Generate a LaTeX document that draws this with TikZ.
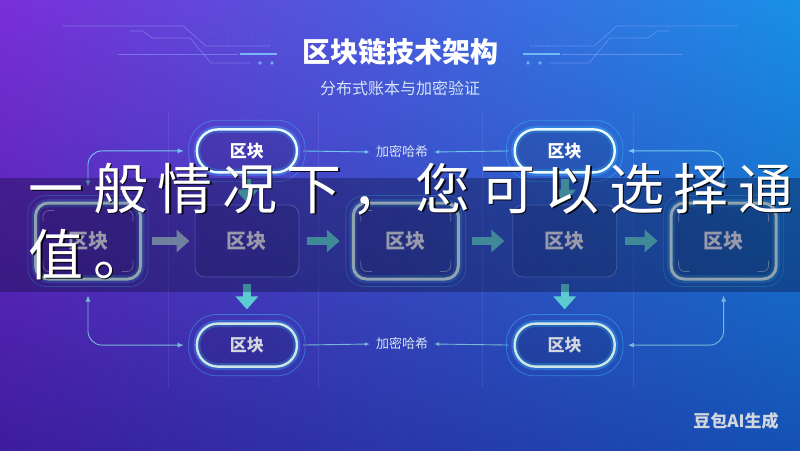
\documentclass[tikz,border=0pt]{standalone}
\usepackage{fontspec}
\setmainfont{Noto Sans CJK SC}
\usetikzlibrary{arrows.meta,positioning,shadings}

\definecolor{bgtl}{HTML}{7A2FD8}
\definecolor{bgtr}{HTML}{1890E6}
\definecolor{bgbl}{HTML}{3E1C9E}
\definecolor{bgbr}{HTML}{1452B4}
\definecolor{glowcyan}{HTML}{3FC6FF}
\definecolor{pilltop}{HTML}{EAFBFF}
\definecolor{pillbot}{HTML}{CFE6E6}
\definecolor{pillbottext}{HTML}{D2D6DE}
\definecolor{boxline}{HTML}{D8F2F4}
\definecolor{boxtext}{HTML}{E2E6EC}
\definecolor{plainline}{HTML}{7C9CF0}
\definecolor{arrowteal}{HTML}{5CCBD0}
\definecolor{arrowgrey}{HTML}{A4C0DA}
\definecolor{wire}{HTML}{70C8EC}
\definecolor{wireb}{HTML}{78B8D2}
\definecolor{lbl}{HTML}{D6E4F6}
\definecolor{circline}{HTML}{9AB0FF}
\definecolor{circbright}{HTML}{7FD0FF}
\definecolor{bandshade}{HTML}{0A0A2E}

\tikzset{
  pill/.style={draw=pilltop, line width=2.4pt, rounded corners=21pt,
    minimum width=100pt, minimum height=43pt, fill=black, fill opacity=.12,
    text opacity=1, text=white, font=\bfseries\fontsize{17}{17}\selectfont,
    preaction={draw=glowcyan, line width=7pt, draw opacity=.3}},
  pillb/.style={pill, draw=pillbot, text=pillbottext},
  halo/.style={draw=glowcyan, line width=.7pt, draw opacity=.45, rounded corners=28pt},
  gbox/.style={draw=boxline, line width=3pt, rounded corners=13pt,
    minimum width=105pt, minimum height=76pt, fill=black, fill opacity=.12,
    text opacity=1, text=boxtext, font=\bfseries\fontsize{20}{20}\selectfont,
    preaction={draw=glowcyan, line width=8pt, draw opacity=.3}},
  pbox/.style={draw=plainline, draw opacity=.7, line width=.8pt, rounded corners=10pt,
    minimum width=104pt, minimum height=72pt, fill=black, fill opacity=.1,
    text opacity=1, text=boxtext, font=\bfseries\fontsize{20}{20}\selectfont},
  cornermark/.style={draw=white, draw opacity=.45, line width=.8pt, rounded corners=6pt},
  bigarrow/.style={line width=8pt, arrowteal, -{Triangle[length=13pt,width=22pt]}},
  wirearrow/.style={draw=wire, line width=.9pt, rounded corners=14pt,
    {Latex[length=6pt,width=5pt]}-{Latex[length=6pt,width=5pt]}},
  hashline/.style={draw=wire, line width=.9pt, -{Latex[length=5pt,width=4pt]}},
  hashlbl/.style={text=lbl, font=\fontsize{13}{13}\selectfont, inner sep=6pt},
  frame/.style={draw=white, draw opacity=.08, line width=.6pt},
  circ/.style={draw=circline, draw opacity=.45, line width=.7pt},
  ovtext/.style={text=white, inner sep=0pt, anchor=base, font=\fontsize{55}{55}\selectfont},
  ovshadow/.style={ovtext, text=black, text opacity=.85}
}

% the circuit lines beside the title
\newcommand\circuit{%
  \draw[circ] (62,26) -- (183,26) -- (206,46) -- (270,46);
  \draw[circ] (130,31) -- (143,31) -- (152,38) -- (190,38) -- (211,63) -- (250,63);
  \draw[circ] (118,54) -- (238,54);
  \draw[circbright, line width=2pt, opacity=.8] (240,54) -- (277,54);
  \fill[circbright, opacity=.7] (260,63) circle (1.8pt) (272,63) circle (1.8pt);
  \foreach \x in {210,216,...,270}
    \fill[circline, opacity=.35] (\x,35) circle (.6pt) (\x,41) circle (.6pt);
}

\begin{document}
\begin{tikzpicture}[x=1pt,y=-1pt]
    \useasboundingbox (0,0) rectangle (800,450);
    \shade[upper left=bgtl, upper right=bgtr, lower left=bgbl, lower right=bgbr]
        (0,0) rectangle (800,450);
    \circuit
    \begin{scope}[xshift=800pt, xscale=-1]
        \circuit
    \end{scope}
    % faint frame lines
    \foreach \x in {168,318,482,633}
        \draw[frame] (\x,112) -- (\x,388);

    % Title
        \node[text=white, font=\bfseries\fontsize{28}{28}\selectfont] (title) at (400,52) {区块链技术架构};
        \node[text=lbl, font=\fontsize{16}{16}\selectfont] (subtitle) at (400,88) {分布式账本与加密验证};

    % Middle row of blocks
        \node[gbox] (g1) at (88,241) {区块};
        \node[pbox, right=52.5pt of g1] (b2) {区块};
        \node[gbox, right=52.5pt of b2] (g3) {区块};
        \node[pbox, right=52.5pt of g3] (b4) {区块};
        \node[gbox, right=52.5pt of b4] (g5) {区块};
    % Top and bottom blocks
        \node[pill, above=31pt of b2] (pt1) {区块};
        \node[pill, above=31pt of b4] (pt2) {区块};
        \node[pillb, below=45pt of b2] (pb1) {区块};
        \node[pillb, below=45pt of b4] (pb2) {区块};
        \node[hashlbl] (ht) at (402,152) {加密哈希};
        \node[hashlbl] (hb) at (402,344) {加密哈希};

    % Glow rings
    \foreach \n in {pt1,pt2,pb1,pb2}
        \draw[halo] ([shift={(-7,-8)}]\n.north west) rectangle ([shift={(7,8)}]\n.south east);
    \foreach \n in {g1,g3,g5} {
        \draw[halo, rounded corners=18pt] ([shift={(-6,-6)}]\n.north west) rectangle ([shift={(6,6)}]\n.south east);
        \draw[cornermark] ([shift={(9,20)}]\n.north west) |- ([shift={(20,9)}]\n.north west);
        \draw[cornermark] ([shift={(-9,20)}]\n.north east) |- ([shift={(-20,9)}]\n.north east);
        \draw[cornermark] ([shift={(9,-20)}]\n.south west) |- ([shift={(20,-9)}]\n.south west);
        \draw[cornermark] ([shift={(-9,-20)}]\n.south east) |- ([shift={(-20,-9)}]\n.south east);
    }

    % Thick arrows
        \draw[bigarrow, arrowgrey, shorten <=10pt, shorten >=5pt] (g1.east) -- (b2.west);
        \draw[bigarrow, shorten <=8pt, shorten >=12pt] (b2.east) -- (g3.west);
        \draw[bigarrow, shorten <=12pt, shorten >=8pt] (g3.east) -- (b4.west);
        \draw[bigarrow, shorten <=8pt, shorten >=12pt] (b4.east) -- (g5.west);
        \draw[bigarrow, shorten <=5pt, shorten >=2pt] (pt1.south) -- (b2.north);
        \draw[bigarrow, shorten <=5pt, shorten >=2pt] (pt2.south) -- (b4.north);
        \draw[bigarrow, shorten <=7pt, shorten >=13pt] (b2.south) -- (pb1.north);
        \draw[bigarrow, shorten <=7pt, shorten >=13pt] (b4.south) -- (pb2.north);

    % Thin connectors
        \draw[wirearrow, shorten <=15pt, shorten >=12pt] (g1.north) |- (pt1.west);
        \draw[wirearrow, shorten <=15pt, shorten >=12pt] (g5.north) |- (pt2.east);
        \draw[wirearrow, draw=wireb, shorten <=15pt, shorten >=12pt] (g1.south) |- (pb1.west);
        \draw[wirearrow, draw=wireb, shorten <=15pt, shorten >=12pt] (g5.south) |- (pb2.east);
        \draw[hashline, shorten <=5pt] (pt1.east) -- (ht.west);
        \draw[hashline, shorten <=5pt] (pt2.west) -- (ht.east);
        \draw[hashline, draw=wireb, shorten <=5pt] (pb1.east) -- (hb.west);
        \draw[hashline, draw=wireb, shorten <=5pt] (pb2.west) -- (hb.east);

    % Watermark
        \node[text=pillbottext, font=\bfseries\fontsize{17}{17}\selectfont] (mark) at (736,421) {豆包AI生成};

    % The dark band and its text
        \fill[bandshade, opacity=.34] (0,178) rectangle (800,292);
    \foreach \c [count=\i] in {一,般,情,况,下,，,您,可,以,选,择,通,过} {
        \node[ovshadow] (os\i) at ({56+(\i-1)*64.5+1.8},210.8) {\c};
        \node[ovtext] (ot\i) at ({56+(\i-1)*64.5},209) {\c};
    }
        \node[ovshadow] (osa) at (57.8,276.8) {值};
        \node[ovtext] (ota) at (56,275) {值};
        \node[ovshadow] (osb) at (122.3,276.8) {。};
        \node[ovtext] (otb) at (120.5,275) {。};
\end{tikzpicture}
\end{document}
